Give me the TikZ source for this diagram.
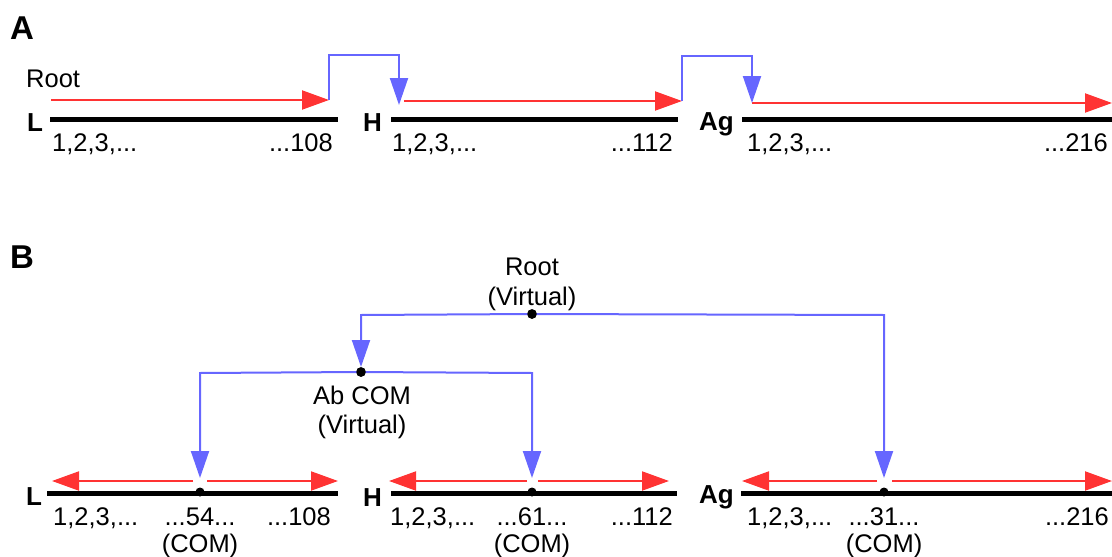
\documentclass[tikz,border=0pt]{standalone}
\usepackage{fontspec}
\setmainfont{Liberation Sans}
\usetikzlibrary{arrows.meta}
\definecolor{ared}{HTML}{FF3333}
\definecolor{ablue}{HTML}{6666FF}
\begin{document}
\begin{tikzpicture}[x=1pt,y=-1pt,
  txt/.style={inner sep=0pt, font=\fontsize{25.5}{30}\selectfont},
  lbl/.style={inner sep=0pt, font=\fontsize{26}{30}\selectfont\bfseries},
  panel/.style={inner sep=0pt, font=\fontsize{33}{38}\selectfont\bfseries},
  bar/.style={line width=5pt, black},
  redarr/.style={color=ared, line width=2pt, -{Triangle[length=27pt,width=19pt]}},
  bluearr/.style={color=ablue, line width=2pt, -{Triangle[length=27pt,width=18pt]}},
  dot/.style={circle, fill=black, inner sep=0pt, minimum size=9.5pt}
]
\useasboundingbox (0,0) rectangle (1112,557);

% ---------------- Panel A ----------------
\node[panel, anchor=base west] (pA) at (10,39) {A};
\node[txt, anchor=base west] (rootA) at (26,87) {Root};

\coordinate (aL1) at (50,119.5);  \coordinate (aL2) at (338,119.5);
\coordinate (aH1) at (391,119.5); \coordinate (aH2) at (678,119.5);
\coordinate (aG1) at (742,119.5); \coordinate (aG2) at (1112,119.5);
\draw[bar] (aL1) -- (aL2);
\draw[bar] (aH1) -- (aH2);
\draw[bar] (aG1) -- (aG2);

\node[lbl, anchor=base west] (labLA) at (27,131) {L};
\node[lbl, anchor=base west] (labHA) at (363,131) {H};
\node[lbl, anchor=base west] (labGA) at (699,130) {Ag};

\node[txt, anchor=base west] (nLA1) at (52,151) {1,2,3,...};
\node[txt, anchor=base east] (nLA2) at (333,151) {...108};
\node[txt, anchor=base west] (nHA1) at (392,151) {1,2,3,...};
\node[txt, anchor=base east] (nHA2) at (673,151) {...112};
\node[txt, anchor=base west] (nGA1) at (747,151) {1,2,3,...};
\node[txt, anchor=base east] (nGA2) at (1108,151) {...216};

\coordinate (rL1) at (51,100);  \coordinate (rL2) at (329,100);
\coordinate (rH1) at (404,101); \coordinate (rH2) at (682,101);
\coordinate (rG1) at (752,103); \coordinate (rG2) at (1112,103);
\draw[redarr] (rL1) -- (rL2);
\draw[redarr] (rH1) -- (rH2);
\draw[redarr] (rG1) -- (rG2);

\coordinate (bLH) at (399,105);
\coordinate (bHG) at (752,103);
\draw[bluearr] (rL2) -- (329,55) -- (399,55) -- (bLH);
\draw[bluearr] (rH2) -- (682,56) -- (752,56) -- (bHG);

% ---------------- Panel B ----------------
\node[panel, anchor=base west] (pB) at (10,268) {B};

\node[txt, anchor=base] (rootB) at (532,275) {Root};
\node[txt, anchor=base] (rootBv) at (532,305) {(Virtual)};
\node[dot] (rootdot) at (532,314) {};

\node[dot] (abdot) at (361,372) {};
\node[txt, anchor=base] (abB) at (362,404) {Ab COM};
\node[txt, anchor=base] (abBv) at (362,433) {(Virtual)};

\coordinate (bL1) at (47,493);  \coordinate (bL2) at (338,493);
\coordinate (bH1) at (391,493); \coordinate (bH2) at (677,493);
\coordinate (bG1) at (741,493); \coordinate (bG2) at (1112,493);
\draw[bar] (bL1) -- (bL2);
\draw[bar] (bH1) -- (bH2);
\draw[bar] (bG1) -- (bG2);

\node[dot, minimum size=9pt] (comL) at (200,492) {};
\node[dot, minimum size=9pt] (comH) at (532,492) {};
\node[dot, minimum size=9pt] (comG) at (884,492) {};

\node[lbl, anchor=base west] (labLB) at (26,505) {L};
\node[lbl, anchor=base west] (labHB) at (363,506) {H};
\node[lbl, anchor=base west] (labGB) at (699,503) {Ag};

% red arrows
\draw[redarr] (193,481) -- (52,481);
\draw[redarr] (207,481) -- (338,481);
\draw[redarr] (527,481) -- (389,481);
\draw[redarr] (538,481) -- (669,481);
\draw[redarr] (877,481) -- (742,481);
\draw[redarr] (892,481) -- (1112,481);

% blue tree
\coordinate (tL) at (200,478);
\coordinate (tH) at (532,478);
\coordinate (tG) at (884,478);
\coordinate (tAb) at (361,367);
\draw[bluearr] (rootdot.center) -- (361,315) -- (tAb);
\draw[bluearr] (rootdot.center) -- (884,315) -- (tG);
\draw[bluearr] (abdot.center) -- (200,373) -- (tL);
\draw[bluearr] (abdot.center) -- (532,373) -- (tH);
\node[dot] at (rootdot) {};
\node[dot] at (abdot) {};

% numbers
\node[txt, anchor=base west] (nLB1) at (53,525) {1,2,3,...};
\node[txt, anchor=base] (nLB2) at (200,525) {...54...};
\node[txt, anchor=base east] (nLB3) at (331,525) {...108};
\node[txt, anchor=base west] (nHB1) at (390,525) {1,2,3,...};
\node[txt, anchor=base] (nHB2) at (532,525) {...61...};
\node[txt, anchor=base east] (nHB3) at (673,525) {...112};
\node[txt, anchor=base west] (nGB1) at (747,525) {1,2,3,...};
\node[txt, anchor=base] (nGB2) at (884,525) {...31...};
\node[txt, anchor=base east] (nGB3) at (1109,525) {...216};

\node[txt, anchor=base] (cL) at (200,552) {(COM)};
\node[txt, anchor=base] (cH) at (532,552) {(COM)};
\node[txt, anchor=base] (cG) at (884,552) {(COM)};
\end{tikzpicture}
\end{document}
